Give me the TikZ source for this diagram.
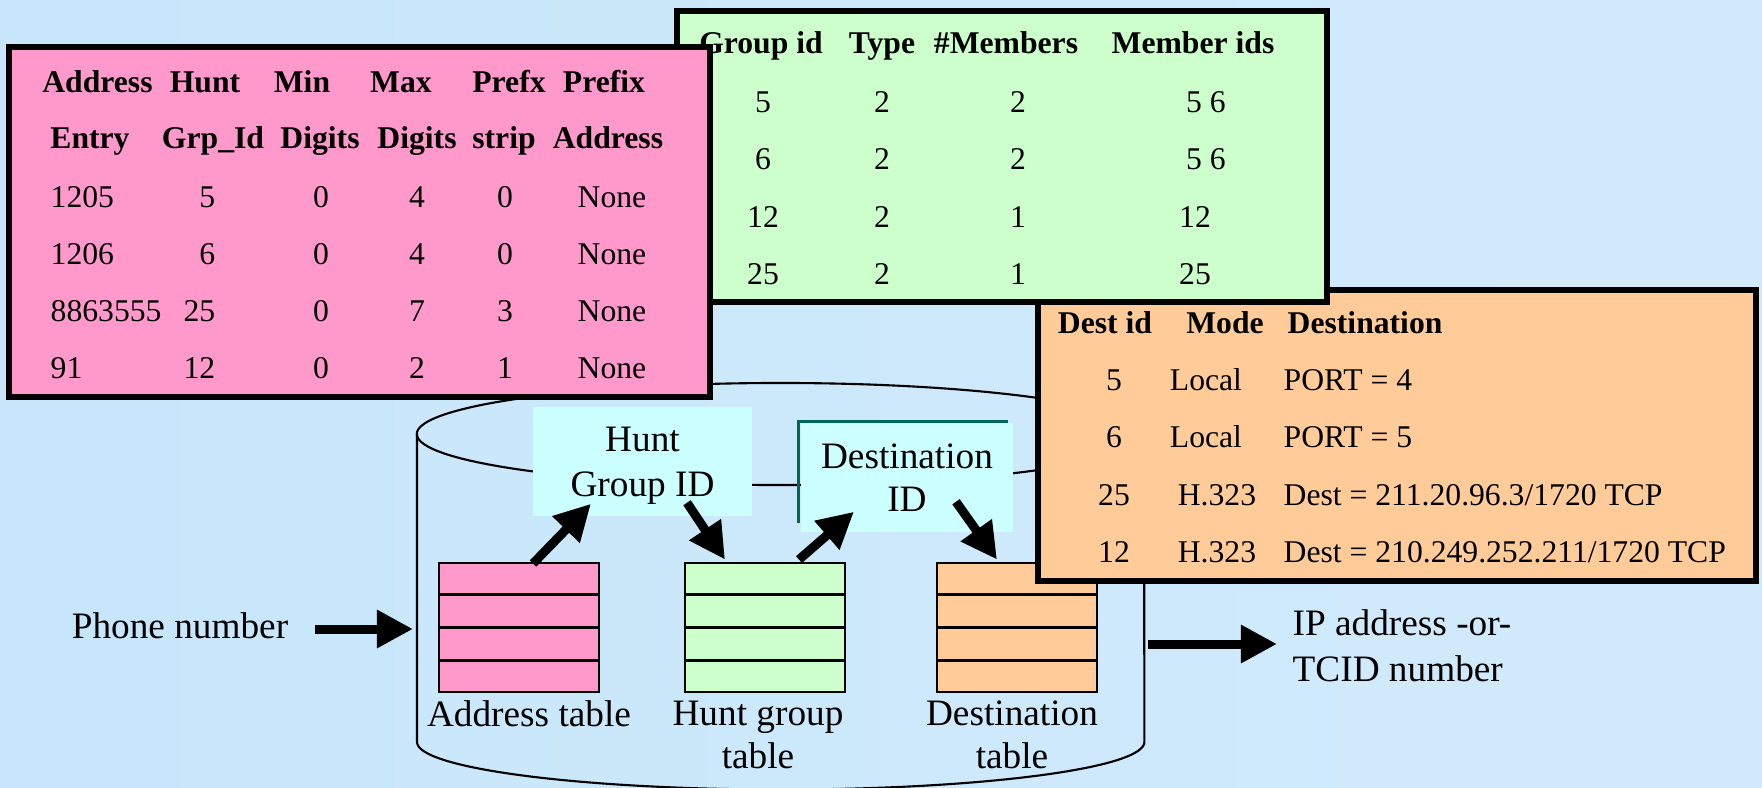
\documentclass[tikz,border=0pt]{standalone}
\usepackage{fontspec}
\setmainfont{Liberation Serif}
\usepackage{tikz}
\usetikzlibrary{arrows.meta,positioning,calc}
\definecolor{addrpink}{HTML}{FF99CC}
\definecolor{huntgreen}{HTML}{CCFFCC}
\definecolor{destorange}{HTML}{FFCC99}
\definecolor{idcyan}{HTML}{CCFFFF}
\definecolor{idedge}{HTML}{006655}
\definecolor{slidebg}{RGB}{199,230,251}
\tikzstyle{bigtab} = [rectangle, draw=black, line width=1.7pt, inner sep=0pt]
\tikzstyle{smalltab} = [rectangle, draw=black, line width=0.8pt, inner sep=0pt,
    minimum width=1.6cm, minimum height=1.29cm]
\tikzstyle{tabcell} = [inner sep=0pt, text height=6pt, text depth=0pt,
    font=\fontsize{9pt}{11pt}\selectfont]
\tikzstyle{colhead} = [tabcell, font=\fontsize{9pt}{11pt}\selectfont\bfseries]
\tikzstyle{tablabel} = [inner sep=0pt, align=center, font=\fontsize{10.6pt}{12.2pt}\selectfont]
\tikzstyle{idbox} = [rectangle, fill=idcyan, inner sep=0pt, align=center, text depth=0pt,
    font=\fontsize{10.6pt}{12.8pt}\selectfont]
\tikzstyle{bigarrow} = [-{Triangle[length=0.36cm,width=0.36cm]}, line width=0.09cm]

\begin{document}
\begin{tikzpicture}[x=0.01cm, y=-0.01cm]
\useasboundingbox (0,0) rectangle (1762,787);
\shade[left color=slidebg, right color=slidebg!80!white] (0,0) rectangle (1762,787);

% database cylinder
\coordinate (cylW) at (417,629);
\coordinate (cylE) at (1144,644);
\draw[line width=0.6pt] (780.5,434) ellipse [x radius=3.635cm, y radius=0.51cm];
\draw[line width=0.6pt] (417,434) -- (417,742)
    arc[start angle=180, end angle=360, x radius=3.635cm, y radius=0.475cm] -- (1144,434);

% small tables inside
\node[smalltab, fill=addrpink] (ptab) at (519,627.5) {};
\node[smalltab, fill=huntgreen] (gtab) at (765,627.5) {};
\node[smalltab, fill=destorange] (otab) at (1017,627.5) {};
\foreach \t in {ptab,gtab,otab}
  \foreach \k in {1,2,3}
    \draw[line width=0.8pt] ($(\t.north west)!\k/4!(\t.south west)$) -- ($(\t.north east)!\k/4!(\t.south east)$);
\node[tablabel, below=0.066cm of ptab, xshift=0.1cm] (plabel) {Address table};
\node[tablabel, below=0.066cm of gtab, xshift=-0.07cm] (glabel) {Hunt group\\table};
\node[tablabel, below=0.066cm of otab, xshift=-0.05cm] (olabel) {Destination\\table};

% ids
\node[idbox, minimum width=2.19cm, minimum height=1.09cm] (hunt) at (642.5,461.5) {Hunt\\Group ID};
\node[idbox, minimum width=2.12cm, minimum height=1.09cm,
    font=\fontsize{10.6pt}{12.2pt}\selectfont] (dest) at (907,477.5) {Destination\\ID};
\draw[idedge, line width=0.8pt] ($(dest.south west)+(-2,-10)$) -- ($(dest.north west)+(-2,-1)$)
    -- ($(dest.north east)+(-6,-1)$);

\draw[bigarrow] ($(ptab.north)+(14,2)$) -- ($(hunt.south)+(-51.5,-13)$);
\draw[bigarrow] ($(hunt.south)+(44.5,-14)$) -- ($(gtab.north)+(-40,-2)$);
\draw[bigarrow] ($(gtab.north)+(34,-2)$) -- ($(dest.south)+(-53,-21)$);
\draw[bigarrow] ($(dest.south)+(49,-31)$) -- ($(otab.north)+(-20,-2)$);

% in and out
\node[tablabel] (phone) at (180,626) {Phone number};
\draw[bigarrow] ($(phone.east)+(26,3)$) -- ($(cylW)+(-4,0)$);
\node[tablabel, anchor=west, align=left, font=\fontsize{10.6pt}{13pt}\selectfont] (out)
    at (1292,646) {IP address -or-\\TCID number};
\draw[bigarrow] ($(cylE)+(4,0)$) -- ($(out.west)+(-15,-2)$);

% destination table
\node[bigtab, fill=destorange, minimum width=7.18cm, minimum height=2.91cm] (desttab) at (1397,435.5) {};
\node[colhead] (dh1) at (1105,323) {Dest id};
\node[colhead] (dh2) at (1225,323) {Mode};
\node[colhead, anchor=west] (dh3) at (1287,323) {Destination};
\foreach \y/\a/\m/\mx/\d [count=\i] in {380/5/Local/1206/{PORT = 4}, 437/6/Local/1206/{PORT = 5},
    495/25/H.323/1217/{Dest = 211.20.96.3/1720 TCP}, 552/12/H.323/1217/{Dest = 210.249.252.211/1720 TCP}} {
  \node[tabcell] (de\i-1) at (1114,\y) {\a};
  \node[tabcell] (de\i-2) at (\mx,\y) {\m};
  \node[tabcell, anchor=west] (de\i-3) at (1283,\y) {\d};
}

% hunt group table
\node[bigtab, fill=huntgreen, minimum width=6.5cm, minimum height=2.91cm] (grptab) at (1002,156.5) {};
\node[colhead] (gh1) at (761,43) {Group id};
\node[colhead] (gh2) at (882,43) {Type};
\node[colhead] (gh3) at (1006,43) {\#Members};
\node[colhead] (gh4) at (1193,43) {Member ids};
\foreach \y/\g/\n/\m/\mx [count=\i] in {102/5/2/{5 6}/1206, 159/6/2/{5 6}/1206, 217/12/1/12/1195, 274/25/1/25/1195} {
  \node[tabcell] (gr\i-1) at (763,\y) {\g};
  \node[tabcell] (gr\i-2) at (882,\y) {2};
  \node[tabcell] (gr\i-3) at (1018,\y) {\n};
  \node[tabcell] (gr\i-4) at (\mx,\y) {\m};
}

% address table
\node[bigtab, fill=addrpink, minimum width=7.01cm, minimum height=3.5cm] (addrtab) at (359.5,222) {};
\foreach \x/\h [count=\i] in {97.5/Address, 205/Hunt, 302/Min, 401/Max, 509/Prefx, 604/Prefix}
  \node[colhead] (ah\i) at (\x,82) {\h};
\foreach \x/\h [count=\i] in {90/Entry, 213/Grp\_Id, 320/Digits, 417/Digits, 504/strip, 608/Address}
  \node[colhead] (ai\i) at (\x,138) {\h};
\foreach \y/\a/\b/\c/\d/\e [count=\i] in {197/1205/5/0/4/0, 254/1206/6/0/4/0, 311/8863555/25/0/7/3, 368/91/12/0/2/1} {
  \node[tabcell, anchor=west] (ad\i-1) at (50,\y) {\a};
  \node[tabcell, anchor=east] (ad\i-2) at (216,\y) {\b};
  \node[tabcell] (ad\i-3) at (321,\y) {\c};
  \node[tabcell] (ad\i-4) at (417,\y) {\d};
  \node[tabcell] (ad\i-5) at (505,\y) {\e};
  \node[tabcell] (ad\i-6) at (612,\y) {None};
}
\end{tikzpicture}
\end{document}
